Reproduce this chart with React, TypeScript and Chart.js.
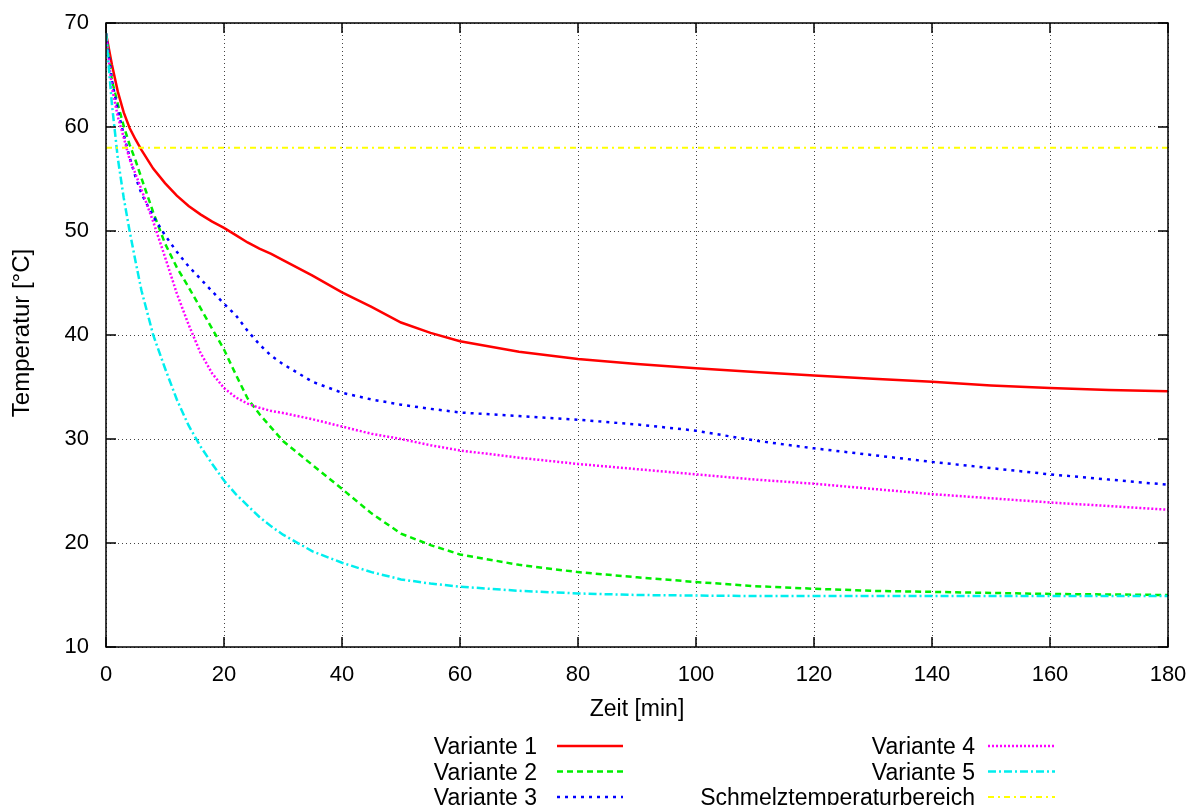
import React, { useEffect, useRef } from "react";
import { Chart, registerables } from "chart.js";

Chart.register(...registerables);

// Time axis (minutes)
const timeMin = [0, 1, 2, 3, 4, 5, 6, 8, 10, 12, 14, 16, 18, 20, 22, 24, 26, 28, 30, 35, 40, 45, 50, 55, 60, 70, 80, 90, 100, 110, 120, 130, 140, 150, 160, 170, 180];

// Temperatures (°C)
const variante1 = [69.0, 66.0, 63.4, 61.4, 59.9, 58.8, 57.8, 56.0, 54.6, 53.4, 52.4, 51.6, 50.9, 50.3, 49.6, 48.9, 48.3, 47.8, 47.2, 45.7, 44.1, 42.7, 41.2, 40.2, 39.4, 38.4, 37.7, 37.2, 36.8, 36.45, 36.1, 35.8, 35.5, 35.15, 34.9, 34.7, 34.6];
const variante2 = [69.0, 64.5, 62.2, 60.1, 58.3, 56.8, 55.1, 51.8, 48.8, 46.5, 44.6, 42.6, 40.6, 38.6, 36.2, 33.9, 32.4, 31.1, 29.8, 27.5, 25.2, 22.85, 20.9, 19.8, 18.9, 17.9, 17.2, 16.7, 16.25, 15.85, 15.6, 15.4, 15.3, 15.2, 15.1, 15.05, 15.0];
const variante3 = [69.0, 64.5, 61.6, 59.3, 57.1, 55.2, 53.6, 51.4, 49.6, 48.0, 46.6, 45.4, 44.2, 43.0, 41.9, 40.4, 39.1, 38.0, 37.2, 35.5, 34.45, 33.8, 33.3, 32.9, 32.55, 32.2, 31.85, 31.4, 30.8, 29.85, 29.1, 28.45, 27.8, 27.2, 26.6, 26.1, 25.6];
const variante4 = [68.9, 63.8, 61.0, 59.0, 56.9, 55.5, 54.0, 50.9, 47.5, 44.0, 41.0, 38.3, 36.3, 34.9, 34.0, 33.4, 33.0, 32.7, 32.5, 31.9, 31.2, 30.5, 30.0, 29.4, 28.9, 28.2, 27.6, 27.1, 26.6, 26.1, 25.7, 25.2, 24.7, 24.3, 23.9, 23.55, 23.2];
const variante5 = [69.0, 62.2, 57.0, 53.2, 50.0, 47.1, 44.3, 40.0, 36.8, 33.8, 31.3, 29.3, 27.6, 26.0, 24.7, 23.6, 22.5, 21.6, 20.8, 19.2, 18.1, 17.2, 16.5, 16.1, 15.8, 15.4, 15.15, 15.0, 14.95, 14.9, 14.9, 14.9, 14.9, 14.9, 14.9, 14.9, 14.9];
const schmelzX = [0, 180];
const schmelzY = [58, 58];

const seriesLabels = ["Variante 1", "Variante 2", "Variante 3", "Variante 4", "Variante 5", "Schmelztemperaturbereich"];
const xTitle = "Zeit [min]";
const yTitle = "Temperatur [°C]";

const FONT = "'Liberation Sans', Arial, Helvetica, sans-serif";

export default function App() {
  const ref = useRef<HTMLCanvasElement>(null);

  useEffect(() => {
    if (!ref.current) return;
    const mk = (xs: number[], ys: number[]) => xs.map((t, i) => ({ x: t, y: ys[i] }));

    const styles = [
      { color: "#ff0000", dash: [] as number[], width: 2.5 },
      { color: "#00ee00", dash: [6, 4], width: 2.5 },
      { color: "#0000ff", dash: [3, 5], width: 2.5 },
      { color: "#ff00ff", dash: [2, 2], width: 2.5 },
      { color: "#00eeee", dash: [8, 3, 2, 3], width: 2.5 },
      { color: "#ffff00", dash: [6, 4, 2, 4], width: 2 },
    ];
    const seriesData = [
      mk(timeMin, variante1),
      mk(timeMin, variante2),
      mk(timeMin, variante3),
      mk(timeMin, variante4),
      mk(timeMin, variante5),
      mk(schmelzX, schmelzY),
    ];

    const datasets = seriesLabels.map((label, i) => ({
      label,
      data: seriesData[i],
      borderColor: styles[i].color,
      backgroundColor: styles[i].color,
      borderDash: styles[i].dash,
      borderWidth: styles[i].width,
      pointRadius: 0,
      tension: 0,
      fill: false,
      order: seriesLabels.length - 1 - i,
    }));

    const framePlugin = {
      id: "gpFrame",
      afterDatasetsDraw(chart: any) {
        const { ctx, chartArea, scales } = chart;
        const { left, right, top, bottom } = chartArea;
        ctx.save();
        ctx.setLineDash([]);
        ctx.strokeStyle = "#000";
        ctx.lineWidth = 1.5;
        const tl = 10;
        ctx.beginPath();
        for (const t of scales.x.ticks) {
          const px = scales.x.getPixelForValue(t.value);
          ctx.moveTo(px, bottom);
          ctx.lineTo(px, bottom - tl);
          ctx.moveTo(px, top);
          ctx.lineTo(px, top + tl);
        }
        for (const t of scales.y.ticks) {
          const py = scales.y.getPixelForValue(t.value);
          ctx.moveTo(left, py);
          ctx.lineTo(left + tl, py);
          ctx.moveTo(right, py);
          ctx.lineTo(right - tl, py);
        }
        ctx.stroke();
        ctx.strokeRect(left, top, right - left, bottom - top);
        ctx.restore();
      },
      afterDraw(chart: any) {
        const { ctx, chartArea } = chart;
        ctx.save();
        ctx.fillStyle = "#000";
        ctx.font = `23px ${FONT}`;
        // x title
        ctx.textAlign = "center";
        ctx.textBaseline = "alphabetic";
        ctx.fillText(xTitle, (chartArea.left + chartArea.right) / 2, 716);
        // y title
        ctx.save();
        ctx.translate(29, 333);
        ctx.rotate(-Math.PI / 2);
        ctx.font = `24px ${FONT}`;
        ctx.fillText(yTitle, 0, 0);
        ctx.restore();

        // legend
        const rows = [746, 771.5, 797];
        const cols = [
          { textRight: 537, x0: 557, x1: 623 },
          { textRight: 975, x0: 988, x1: 1055 },
        ];
        chart.data.datasets.forEach((ds: any, i: number) => {
          const col = cols[Math.floor(i / 3)];
          const y = rows[i % 3];
          ctx.fillStyle = "#000";
          ctx.textAlign = "right";
          ctx.textBaseline = "alphabetic";
          ctx.fillText(ds.label, col.textRight, y + 8.3);
          ctx.beginPath();
          ctx.setLineDash(ds.borderDash || []);
          ctx.strokeStyle = ds.borderColor;
          ctx.lineWidth = ds.borderWidth;
          ctx.moveTo(col.x0, y);
          ctx.lineTo(col.x1, y);
          ctx.stroke();
          ctx.setLineDash([]);
        });
        ctx.restore();
      },
    };

    const chart = new Chart(ref.current, {
      type: "line",
      data: { datasets: datasets as any },
      options: {
        animation: false,
        responsive: false,
        layout: { padding: { top: 23, right: 32, bottom: 0, left: 0 } },
        plugins: {
          legend: { display: false },
          tooltip: { enabled: false },
        },
        scales: {
          x: {
            type: "linear",
            min: 0,
            max: 180,
            ticks: {
              stepSize: 20,
              color: "#000",
              padding: 15,
              font: { family: FONT, size: 22 },
            },
            grid: { color: "#444", lineWidth: 1, drawTicks: false },
            border: { display: false, dash: [1, 3] },
            afterFit(scale: any) {
              scale.height = 158;
              scale.paddingLeft = 0;
              scale.paddingRight = 0;
              scale.paddingTop = 0;
              scale.paddingBottom = 0;
            },
          },
          y: {
            type: "linear",
            min: 10,
            max: 70,
            ticks: {
              stepSize: 10,
              color: "#000",
              padding: 17,
              font: { family: FONT, size: 22 },
            },
            grid: { color: "#444", lineWidth: 1, drawTicks: false },
            border: { display: false, dash: [1, 3] },
            afterFit(scale: any) {
              scale.width = 106;
              scale.paddingLeft = 0;
              scale.paddingRight = 0;
              scale.paddingTop = 0;
              scale.paddingBottom = 0;
            },
          },
        },
      },
      plugins: [framePlugin],
    });

    return () => chart.destroy();
  }, []);

  return (
    <canvas
      ref={ref}
      width={1200}
      height={805}
      style={{ position: "fixed", left: 0, top: 0, display: "block", background: "#fff" }}
    />
  );
}
